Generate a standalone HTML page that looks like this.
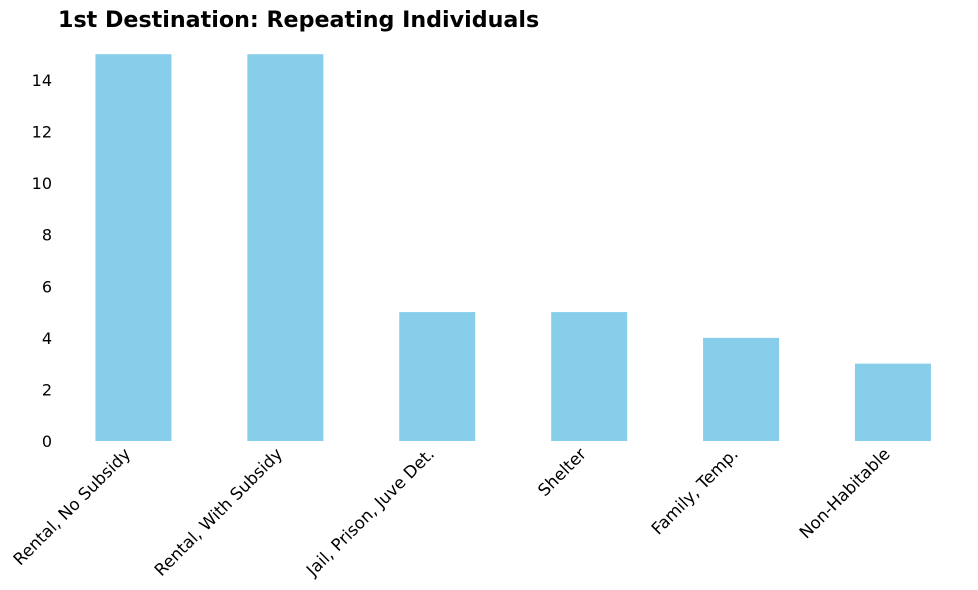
<!DOCTYPE html>
<html><head><meta charset="utf-8"><style>
body{margin:0;background:#fff;}
svg{display:block;font-family:"DejaVu Sans",sans-serif;}
</style></head><body>
<svg id="chart" width="978" height="590">
<text x="58" y="27" font-size="22.2" font-weight="bold" fill="#000">1st Destination: Repeating Individuals</text>
<g id="yaxis"></g>
<g id="bars"></g>
<g id="xaxis"></g>
</svg>
<script>
const categories = ["Rental, No Subsidy","Rental, With Subsidy","Jail, Prison, Juve Det.","Shelter","Family, Temp.","Non-Habitable"];
const values = [15,15,5,5,4,3];
const yTicks = [0,2,4,6,8,10,12,14];
const NS="http://www.w3.org/2000/svg";
const left=57.5, step=151.9, y0=441, unit=(441-80)/14;
const xC=i=>left+step*(i+0.5);
const yS=v=>y0-v*unit;
const yg=document.getElementById('yaxis'), bg=document.getElementById('bars'), xg=document.getElementById('xaxis');
yTicks.forEach(t=>{
  const tx=document.createElementNS(NS,'text');
  tx.setAttribute('x',52);tx.setAttribute('y',yS(t)+6);
  tx.setAttribute('text-anchor','end');tx.setAttribute('font-size','16');
  tx.textContent=t;
  
  
  yg.appendChild(tx);
});
categories.forEach((c,i)=>{
  const r=document.createElementNS(NS,'rect');
  r.setAttribute('x',xC(i)-38);r.setAttribute('width',76);
  r.setAttribute('y',yS(values[i]));r.setAttribute('height',y0-yS(values[i]));
  r.setAttribute('fill','#87ceeb');
  
  
  bg.appendChild(r);
  const tx=document.createElementNS(NS,'text');
  const x=xC(i)-2, y=455;
  tx.setAttribute('x',x);tx.setAttribute('y',y);
  tx.setAttribute('text-anchor','end');tx.setAttribute('font-size','16.7');
  tx.setAttribute('transform','rotate(-45 '+x+' '+y+')');
  tx.textContent=c;
  
  
  xg.appendChild(tx);
});
</script>
</body></html>
